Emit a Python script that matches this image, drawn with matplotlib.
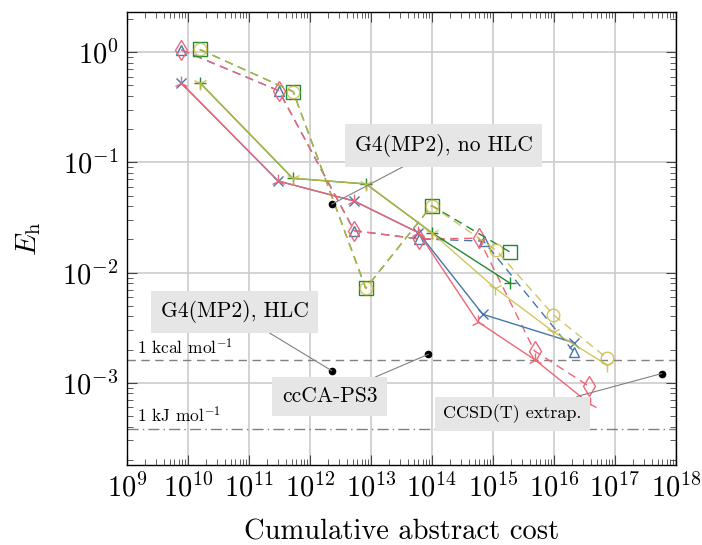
import numpy as np
import matplotlib
matplotlib.use("Agg")
from matplotlib import pyplot as plt
from matplotlib.ticker import FixedLocator, LogLocator, NullFormatter

plt.rcParams['font.family'] = ['cmr10', 'DejaVu Serif']
plt.rcParams['mathtext.fontset'] = 'cm'
plt.rcParams['axes.formatter.use_mathtext'] = True
plt.rcParams['axes.unicode_minus'] = False

# Cost (x) and error (y) for each series
cost_blue_solid = [7.8e9, 3.0e11, 5.3e12, 6.0e13, 6.8e14, 2.1e16]
err_blue_solid = [0.523, 0.0678, 0.0446, 0.0230, 0.00418, 0.00231]
cost_red_solid = [7.8e9, 3.0e11, 5.3e12, 6.0e13, 5.6e14, 4.9e15, 3.9e16]
err_red_solid = [0.523, 0.0678, 0.0446, 0.0230, 0.00358, 0.00161, 0.00064]
cost_green_solid = [1.56e10, 5.2e11, 8.3e12, 9.9e13, 1.92e15]
err_green_solid = [0.530, 0.0718, 0.0637, 0.0230, 0.00798]
cost_yellow_solid = [1.56e10, 5.2e11, 8.3e12, 9.9e13, 1.09e15, 9.8e15, 7.4e16]
err_yellow_solid = [0.530, 0.0718, 0.0637, 0.0230, 0.00720, 0.00290, 0.00145]

cost_blue_dash = [7.8e9, 3.08e11, 5.3e12, 6.1e13, 7.0e14, 2.1e16]
err_blue_dash = [1.05, 0.448, 0.0240, 0.0202, 0.0193, 0.00191]
cost_red_dash = [7.8e9, 3.08e11, 5.3e12, 6.1e13, 5.8e14, 4.8e15, 3.7e16]
err_red_dash = [1.05, 0.448, 0.0240, 0.0202, 0.0205, 0.00194, 0.000933]
cost_green_dash = [1.56e10, 5.3e11, 8.2e12, 9.9e13, 1.92e15]
err_green_dash = [1.06, 0.439, 0.00719, 0.0405, 0.0153]
cost_yellow_dash = [1.56e10, 5.3e11, 8.2e12, 9.9e13, 1.12e15, 9.8e15, 7.4e16]
err_yellow_dash = [1.06, 0.439, 0.00719, 0.0405, 0.0160, 0.00412, 0.00167]

# Composite methods: label, point, label position
composite_names = ["G4(MP2), no HLC", "G4(MP2), HLC", "ccCA-PS3", "CCSD(T) extrap."]
composite_cost = [2.27e12, 2.27e12, 8.7e13, 5.8e17]
composite_err = [0.0417, 0.001285, 0.00181, 0.00121]
label_cost = [1.55e14, 5.85e10, 2.12e12, 2.07e15]
label_err = [0.1426, 0.00439, 0.00075, 0.00052]

x_ticks = [1e9, 1e10, 1e11, 1e12, 1e13, 1e14, 1e15, 1e16, 1e17, 1e18]
y_ticks = [1e-3, 1e-2, 1e-1, 1e0]

kcal = 0.0015936
kj = 0.00038088

blue = "#4477AA"
red = "#EE6677"
green = "#228833"
yellow = "#CCBB44"

fig = plt.figure(figsize=(7.02, 5.45), dpi=100)
ax = fig.add_axes([127 / 702, 1 - 465 / 545, 549 / 702, 453 / 545])

dash = (0, (6, 4))
lw = 1.0

# dashed series
ax.plot(cost_blue_dash, err_blue_dash, color=blue, ls=dash, lw=lw,
        marker='^', ms=7.5, mfc='none', mew=1.0)
ax.plot(cost_red_dash, err_red_dash, color=red, ls=dash, lw=lw,
        marker='d', ms=10, mfc='none', mew=1.0)
ax.plot(cost_green_dash, err_green_dash, color=green, ls=dash, lw=lw,
        marker='s', ms=9.5, mfc='none', mew=1.0)
ax.plot(cost_yellow_dash, err_yellow_dash, color=yellow, ls=dash, lw=lw,
        marker='o', ms=9, mfc='none', mew=1.0, alpha=0.85)

# solid series
ax.plot(cost_blue_solid, err_blue_solid, color=blue, lw=lw,
        marker='x', ms=7, mew=1.0)
ax.plot(cost_red_solid, err_red_solid, color=red, lw=lw,
        marker='2', ms=10, mew=1.0)
ax.plot(cost_green_solid, err_green_solid, color=green, lw=lw,
        marker='+', ms=9, mew=1.0)
ax.plot(cost_yellow_solid, err_yellow_solid, color=yellow, lw=lw,
        marker='1', ms=10, mew=1.0, alpha=0.85)

# chemical accuracy lines
ax.axhline(kcal, color='#808080', lw=1.0, ls=(0, (6, 4)), zorder=1)
ax.axhline(kj, color='#808080', lw=1.0, ls=(0, (8, 3, 1, 3)), zorder=1)
ax.text(1.45e9, kcal * 1.07, "1 kcal mol$^{-1}$", fontsize=12.5,
        ha='left', va='bottom')
ax.text(1.45e9, kj * 1.07, "1 kJ mol$^{-1}$", fontsize=12.5,
        ha='left', va='bottom')

# composite methods
label_sizes = [15.5, 15.5, 15.5, 13]
ax.plot(composite_cost, composite_err, 'o', color='black', ms=4.5, zorder=5)
for name, cx, cy, tx, ty, fs in zip(composite_names, composite_cost, composite_err,
                                    label_cost, label_err, label_sizes):
    ax.annotate(name, xy=(cx, cy), xytext=(tx, ty), fontsize=fs,
                ha='center', va='center', zorder=6,
                bbox=dict(boxstyle='square,pad=0.45', fc='#e6e6e6', ec='none'),
                arrowprops=dict(arrowstyle='-', color='#808080', lw=0.8,
                                shrinkA=0, shrinkB=0))

ax.set_xscale('log')
ax.set_yscale('log')
ax.set_xlim(1e9, 1e18)
ax.set_ylim(1.79e-4, 2.32)
ax.xaxis.set_major_locator(FixedLocator(x_ticks))
ax.xaxis.set_minor_locator(LogLocator(base=10, subs=np.arange(2, 10), numticks=20))
ax.xaxis.set_minor_formatter(NullFormatter())
ax.yaxis.set_major_locator(FixedLocator(y_ticks))
ax.yaxis.set_minor_locator(LogLocator(base=10, subs=np.arange(2, 10), numticks=20))
ax.yaxis.set_minor_formatter(NullFormatter())

ax.grid(True, which='major', color='#cccccc', lw=1.2, zorder=0)
ax.set_axisbelow(True)
ax.tick_params(which='both', direction='in', top=True, right=True,
               color='#444444', labelsize=20.5)
ax.tick_params(which='major', length=7, width=0.8, pad=6)
ax.tick_params(which='minor', length=4, width=0.6)
for s in ax.spines.values():
    s.set_linewidth(1.0)

ax.set_xlabel("Cumulative abstract cost", fontsize=20.5, labelpad=12)
ax.set_ylabel(r"$E_\mathrm{h}$", fontsize=21, labelpad=14)

fig.savefig("out.png", dpi=100)
